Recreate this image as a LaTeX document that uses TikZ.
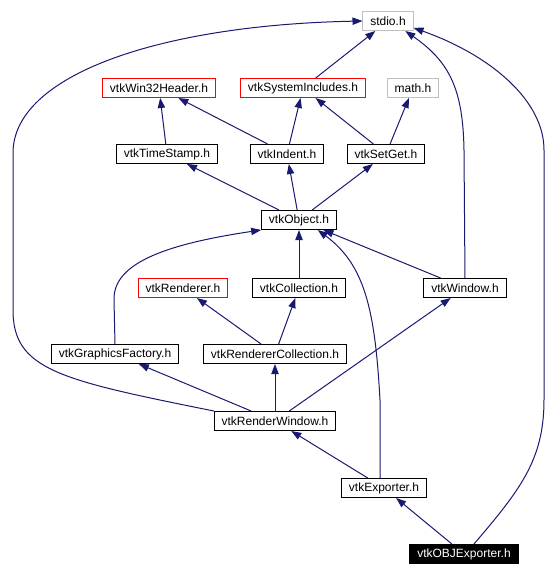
\documentclass[tikz,border=0pt]{standalone}
\usepackage{fontspec}
\setmainfont{Liberation Sans}
\usepackage{xcolor}
\usetikzlibrary{arrows.meta}

\definecolor{edgeblue}{HTML}{191970}
\definecolor{sysgray}{HTML}{BFBFBF}

\begin{document}
\begin{tikzpicture}[x=0.75pt, y=-0.75pt,
  hdr/.style={draw=black, line width=0.75pt, fill=white, inner xsep=5.5pt, inner ysep=0pt,
    minimum height=14.25pt, font=\fontsize{9pt}{11pt}\selectfont},
  hdrgray/.style={hdr, draw=sysgray},
  hdrred/.style={hdr, draw=red},
  hdrmain/.style={hdr, fill=black, text=white},
  dep/.style={draw=edgeblue, line width=0.75pt, -{Triangle[length=7.5pt, width=5.5pt]}}]

\useasboundingbox (0,0) rectangle (560,576);

% top row
\node[hdrgray] (stdio) at (388,21) {stdio.h};
\node[hdrred] (win32) at (159,88) {vtkWin32Header.h};
\node[hdrred] (sysinc) at (303,88) {vtkSystemIncludes.h};
\node[hdrgray] (math) at (413,88) {math.h};

% common
\node[hdr] (timestamp) at (167,154) {vtkTimeStamp.h};
\node[hdr] (indent) at (287,154) {vtkIndent.h};
\node[hdr] (setget) at (386,154) {vtkSetGet.h};
\node[hdr] (object) at (299,220) {vtkObject.h};

% rendering
\node[hdrred] (renderer) at (183,288) {vtkRenderer.h};
\node[hdr] (collection) at (299,288) {vtkCollection.h};
\node[hdr] (window) at (465,288) {vtkWindow.h};
\node[hdr] (gfactory) at (115,354) {vtkGraphicsFactory.h};
\node[hdr] (rencoll) at (275,354) {vtkRendererCollection.h};
\node[hdr] (renwin) at (275,421) {vtkRenderWindow.h};
\node[hdr] (exporter) at (384,488) {vtkExporter.h};
\node[hdrmain] (objexp) at (464,554) {vtkOBJExporter.h};

% straight edges
\draw[dep] (sysinc) -- (stdio);
\draw[dep] (timestamp) -- (win32);
\draw[dep] (indent) -- (win32);
\draw[dep] (indent) -- (sysinc);
\draw[dep] (setget) -- (sysinc);
\draw[dep] (setget) -- (math);
\draw[dep] (object) -- (timestamp);
\draw[dep] (object) -- (indent);
\draw[dep] (object) -- (setget);
\draw[dep] (collection) -- (object);
\draw[dep] (window) -- (object);
\draw[dep] (rencoll) -- (renderer);
\draw[dep] (rencoll) -- (collection);
\draw[dep] (renwin) -- (gfactory);
\draw[dep] (renwin) -- (rencoll);
\draw[dep] (renwin) -- (window);
\draw[dep] (exporter) -- (renwin);
\draw[dep] (objexp) -- (exporter);

% curved edges
\draw[dep] (renwin.north west) .. controls (60,380) and (13,370) .. (13,310)
  -- (13,153) .. controls (13,75) and (160,25) .. (stdio.west);
\draw[dep] (objexp.45) .. controls (520,490) and (544,460) .. (544,400)
  -- (544,150) .. controls (544,100) and (490,55) .. (stdio.-15);
\draw[dep] (window.north) -- (464,150) .. controls (463,90) and (450,62) .. (stdio.-30);
\draw[dep] ([xshift=-3pt]exporter.north) -- (380,400) .. controls (375,310) and (365,265) .. (object.-28);
\draw[dep] (gfactory.north) -- (114,300) .. controls (113,265) and (160,245) .. (object.south west);

\end{tikzpicture}
\end{document}
